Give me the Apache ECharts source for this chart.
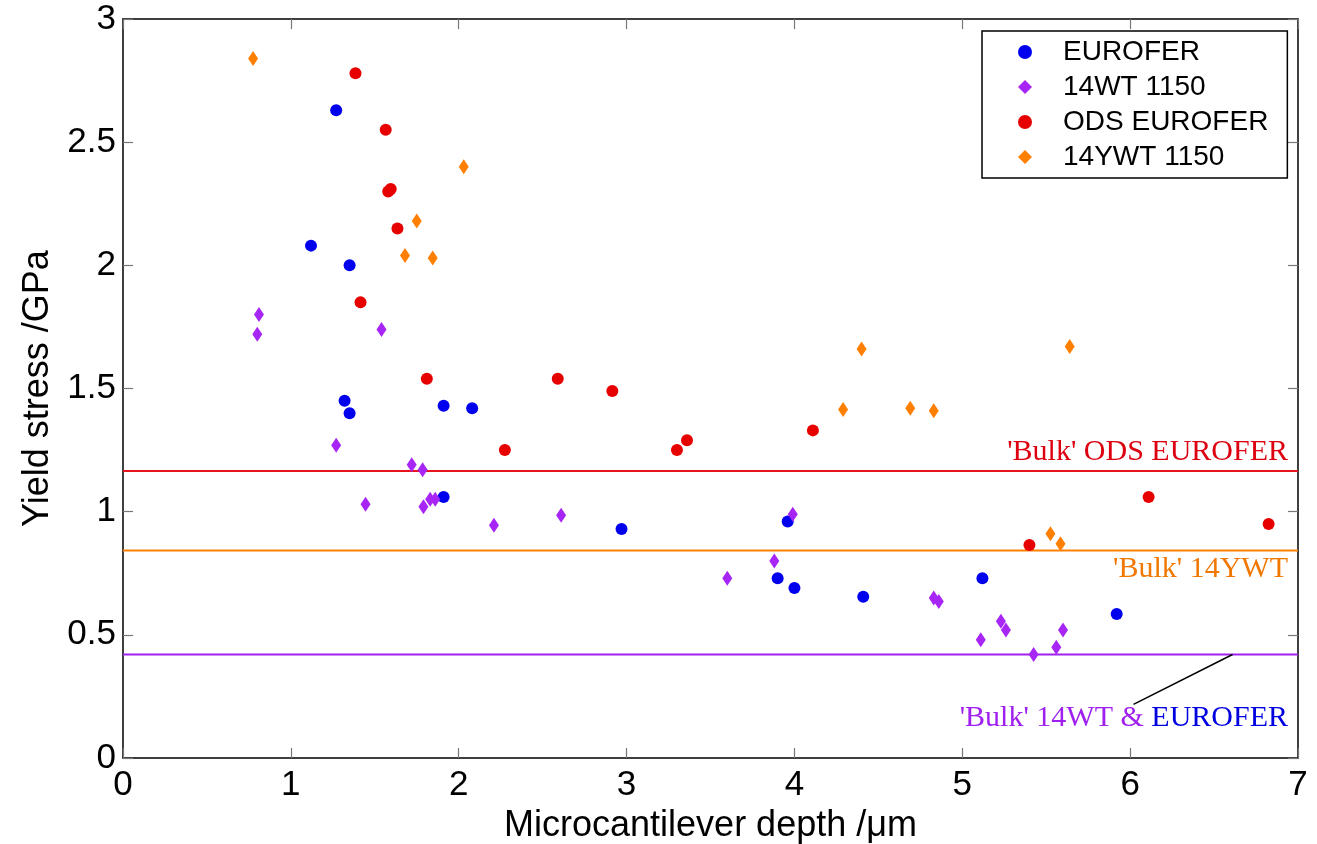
<!DOCTYPE html>
<html>
<head>
<meta charset="utf-8">
<title>Yield stress vs microcantilever depth</title>
<script src="https://cdn.jsdelivr.net/npm/echarts@6/dist/echarts.min.js"></script>
<style>
  html, body { margin: 0; padding: 0; background: #fff; }
  #chart { width: 1317px; height: 844px; }
</style>
</head>
<body>
<div id="chart"></div>
<script>
// Measured yield stress (GPa) against microcantilever depth (µm), [depth, stress]
const eurofer = [
  [1.12, 2.08], [1.27, 2.63], [1.35, 2.00], [1.32, 1.45], [1.35, 1.40],
  [1.91, 1.43], [2.08, 1.42], [1.91, 1.06], [2.97, 0.93], [3.96, 0.96],
  [3.90, 0.73], [4.00, 0.69], [4.41, 0.655], [5.12, 0.73], [5.92, 0.585]
];
const wt14 = [
  [0.81, 1.80], [0.80, 1.72], [1.54, 1.74], [1.27, 1.27], [1.72, 1.19],
  [1.785, 1.17], [1.83, 1.05], [1.86, 1.05], [1.79, 1.02], [1.445, 1.03],
  [2.21, 0.945], [2.61, 0.985], [3.99, 0.99], [3.88, 0.80], [3.60, 0.73],
  [4.83, 0.65], [4.86, 0.635], [5.23, 0.555], [5.26, 0.52], [5.11, 0.48],
  [5.60, 0.52], [5.56, 0.45], [5.425, 0.42]
];
const odsEurofer = [
  [1.385, 2.78], [1.565, 2.55], [1.58, 2.30], [1.595, 2.31], [1.635, 2.15],
  [1.415, 1.85], [1.81, 1.54], [2.59, 1.54], [2.915, 1.49], [2.275, 1.25],
  [3.30, 1.25], [3.36, 1.29], [4.11, 1.33], [5.40, 0.865], [6.11, 1.06],
  [6.825, 0.95]
];
const ywt14 = [
  [0.775, 2.84], [2.03, 2.40], [1.75, 2.18], [1.68, 2.04], [1.845, 2.03],
  [4.40, 1.66], [5.64, 1.67], [4.29, 1.415], [4.69, 1.42], [4.83, 1.41],
  [5.525, 0.91], [5.585, 0.87]
];

// Bulk yield stress reference levels (GPa)
const bulkOds = 1.165;
const bulk14ywt = 0.842;
const bulk14wt = 0.42;

const seriesNames = ['EUROFER', '14WT 1150', 'ODS EUROFER', '14YWT 1150'];
const xRange = [0, 7];
const yRange = [0, 3];

const COL = {
  eurofer: '#0000EE',
  wt: '#A826F5',
  ods: '#E60000',
  ywt: '#FF7F00'
};

const SANS = '"Liberation Sans", Arial, sans-serif';
const SERIF = '"Liberation Serif", "Times New Roman", serif';

const chart = echarts.init(document.getElementById('chart'), null, { renderer: 'canvas' });

function axisCommon(extra) {
  return Object.assign({
    type: 'value',
    axisLine: { show: true, onZero: false, lineStyle: { color: '#000', width: 1.5 } },
    axisTick: { show: true, inside: true, length: 10, lineStyle: { color: '#777', width: 1.2 } },
    splitLine: { show: false }
  }, extra);
}

function bulkLine(level, color) {
  return {
    type: 'line',
    data: [[xRange[0], level], [xRange[1], level]],
    symbol: 'none',
    silent: true,
    z: 1,
    lineStyle: { color: color, width: 2 }
  };
}

function scatter(name, data, color, symbol, size) {
  return {
    name: name,
    type: 'scatter',
    data: data,
    symbol: symbol,
    symbolSize: size,
    z: 3,
    itemStyle: { color: color, opacity: 1 }
  };
}

chart.setOption({
  animation: false,
  backgroundColor: '#fff',
  grid: { left: 123, right: 19, top: 19, bottom: 86, containLabel: false, outerBoundsMode: 'none' },
  xAxis: [
    axisCommon({
      min: xRange[0], max: xRange[1], interval: 1, position: 'bottom',
      name: 'Microcantilever depth /\u03BCm',
      nameLocation: 'middle', nameGap: 40,
      nameTextStyle: { fontFamily: SANS, fontSize: 36, color: '#000' },
      axisLabel: { fontFamily: SANS, fontSize: 35, color: '#000', margin: 10 }
    }),
    axisCommon({
      min: xRange[0], max: xRange[1], interval: 1, position: 'top',
      axisLabel: { show: false }
    })
  ],
  yAxis: [
    axisCommon({
      min: yRange[0], max: yRange[1], interval: 0.5, position: 'left',
      name: 'Yield stress /GPa',
      nameLocation: 'middle', nameGap: 66,
      nameTextStyle: { fontFamily: SANS, fontSize: 36, color: '#000' },
      axisLabel: { fontFamily: SANS, fontSize: 35, color: '#000', margin: 7 }
    }),
    axisCommon({
      min: yRange[0], max: yRange[1], interval: 0.5, position: 'right',
      axisLabel: { show: false }
    })
  ],
  legend: {
    data: seriesNames,
    orient: 'vertical',
    left: 982,
    top: 31,
    itemWidth: 14,
    itemHeight: 14,
    itemGap: 7,
    padding: [7, 19, 7, 36],
    borderColor: '#000',
    borderWidth: 1.5,
    backgroundColor: '#fff',
    textStyle: { fontFamily: SANS, fontSize: 28, color: '#000', lineHeight: 28, padding: [0, 0, 0, 26] }
  },
  series: [
    bulkLine(bulkOds, '#E8141C'),
    bulkLine(bulk14ywt, '#FF8000'),
    bulkLine(bulk14wt, '#A020F0'),
    scatter(seriesNames[0], eurofer, COL.eurofer, 'circle', 12),
    scatter(seriesNames[1], wt14, COL.wt, 'diamond', [10, 15]),
    scatter(seriesNames[2], odsEurofer, COL.ods, 'circle', 12),
    scatter(seriesNames[3], ywt14, COL.ywt, 'diamond', [10, 15])
  ]
});

// Annotations placed relative to the bulk reference lines
const px = (x, y) => chart.convertToPixel({ gridIndex: 0 }, [x, y]);
const rightEdge = px(xRange[1], 0)[0] - 10;
const pOds = px(xRange[1], bulkOds);
const pYwt = px(xRange[1], bulk14ywt);
const pWt = px(xRange[1], bulk14wt);
const leaderTop = px(6.61, bulk14wt);
const leaderBottom = px(6.02, 0.218);

chart.setOption({
  graphic: [
    {
      type: 'text',
      x: rightEdge, y: pOds[1] - 19,
      style: {
        text: "'Bulk' ODS EUROFER",
        fill: '#DD0010',
        font: '30px ' + SERIF,
        align: 'right', verticalAlign: 'middle'
      },
      z: 10
    },
    {
      type: 'text',
      x: rightEdge, y: pYwt[1] + 19,
      style: {
        text: "'Bulk' 14YWT",
        fill: '#F07800',
        font: '30px ' + SERIF,
        align: 'right', verticalAlign: 'middle'
      },
      z: 10
    },
    {
      type: 'text',
      x: rightEdge, y: pWt[1] + 64,
      style: {
        text: "{p|'Bulk' 14WT &} {b|EUROFER}",
        align: 'right', verticalAlign: 'middle',
        font: '30px ' + SERIF,
        rich: {
          p: { fill: '#A020F0', fontFamily: SERIF, fontSize: 30 },
          b: { fill: '#0000E0', fontFamily: SERIF, fontSize: 30 }
        }
      },
      z: 10
    },
    {
      type: 'line',
      shape: { x1: leaderBottom[0], y1: leaderBottom[1], x2: leaderTop[0], y2: leaderTop[1] },
      style: { stroke: '#000', lineWidth: 1.5 },
      z: 10
    }
  ]
});
</script>
</body>
</html>
